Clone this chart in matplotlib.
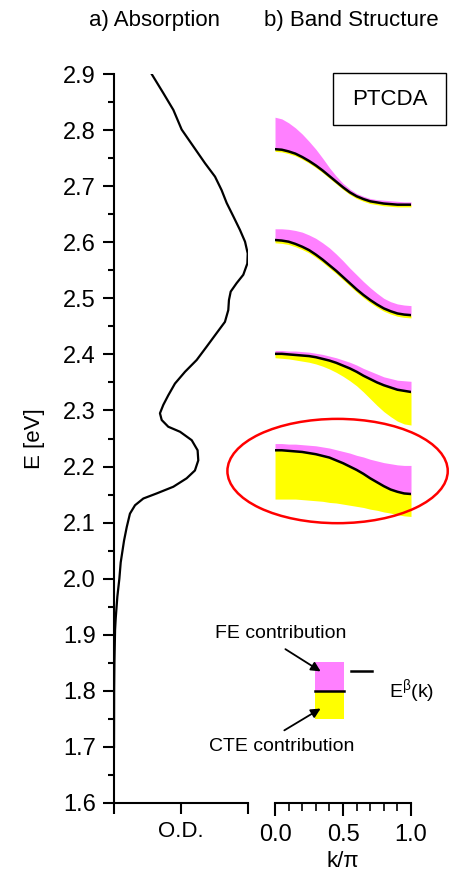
import numpy as np
import matplotlib
matplotlib.use("Agg")
import matplotlib.pyplot as plt
from matplotlib.patches import Ellipse, Rectangle

plt.rcParams['font.family'] = ['Liberation Sans', 'DejaVu Sans']

# absorption spectrum (O.D. normalised to 0..1) vs photon energy
abs_E = [2.900, 2.866, 2.836, 2.801, 2.771, 2.741, 2.717, 2.693, 2.670, 2.646,
         2.622, 2.601, 2.580, 2.562, 2.542, 2.527, 2.512, 2.497, 2.479, 2.458,
         2.438, 2.414, 2.390, 2.369, 2.348, 2.327, 2.310, 2.295, 2.283, 2.271,
         2.262, 2.247, 2.229, 2.211, 2.193, 2.179, 2.164, 2.152, 2.143, 2.131,
         2.116, 2.092, 2.068, 2.029, 2.000, 1.968, 1.930, 1.909, 1.850, 1.800,
         1.700]
abs_od = [0.281, 0.368, 0.443, 0.505, 0.592, 0.679, 0.754, 0.803, 0.841, 0.891,
          0.940, 0.978, 0.998, 0.995, 0.965, 0.915, 0.871, 0.858, 0.853, 0.828,
          0.766, 0.692, 0.617, 0.530, 0.455, 0.405, 0.368, 0.343, 0.356, 0.405,
          0.493, 0.580, 0.624, 0.629, 0.604, 0.542, 0.443, 0.318, 0.219, 0.157,
          0.119, 0.095, 0.075, 0.050, 0.040, 0.025, 0.013, 0.008, 0.003, 0.001,
          0.000]

# band structure E(k): centre line, FE upper edge, CTE lower edge
k = [0.00, 0.05, 0.10, 0.15, 0.20, 0.25, 0.30, 0.35, 0.40, 0.45, 0.50,
     0.55, 0.60, 0.65, 0.70, 0.75, 0.80, 0.85, 0.90, 0.95, 1.00]
band_mid = [
    [2.766, 2.765, 2.762, 2.758, 2.752, 2.745, 2.737, 2.728, 2.718, 2.708, 2.698,
     2.689, 2.682, 2.677, 2.673, 2.671, 2.669, 2.668, 2.667, 2.667, 2.667],
    [2.604, 2.603, 2.601, 2.597, 2.592, 2.586, 2.578, 2.569, 2.559, 2.549, 2.538,
     2.527, 2.516, 2.506, 2.497, 2.489, 2.482, 2.477, 2.473, 2.471, 2.470],
    [2.401, 2.401, 2.400, 2.399, 2.398, 2.397, 2.395, 2.392, 2.389, 2.385, 2.380,
     2.375, 2.369, 2.362, 2.356, 2.350, 2.345, 2.341, 2.337, 2.335, 2.333],
    [2.229, 2.229, 2.228, 2.227, 2.226, 2.224, 2.222, 2.219, 2.216, 2.211, 2.206,
     2.200, 2.194, 2.187, 2.179, 2.172, 2.165, 2.159, 2.155, 2.152, 2.151],
]
band_fe = [
    [2.823, 2.820, 2.813, 2.804, 2.793, 2.780, 2.766, 2.750, 2.733, 2.718, 2.705,
     2.695, 2.687, 2.682, 2.678, 2.676, 2.675, 2.674, 2.673, 2.672, 2.672],
    [2.624, 2.624, 2.623, 2.621, 2.618, 2.613, 2.607, 2.599, 2.590, 2.579, 2.567,
     2.554, 2.542, 2.530, 2.519, 2.509, 2.500, 2.494, 2.490, 2.488, 2.487],
    [2.407, 2.407, 2.406, 2.406, 2.405, 2.404, 2.402, 2.400, 2.397, 2.394, 2.390,
     2.386, 2.381, 2.375, 2.370, 2.365, 2.360, 2.357, 2.354, 2.353, 2.352],
    [2.241, 2.241, 2.240, 2.240, 2.239, 2.238, 2.237, 2.235, 2.233, 2.230, 2.227,
     2.224, 2.220, 2.217, 2.213, 2.210, 2.207, 2.205, 2.203, 2.202, 2.202],
]
band_cte = [
    [2.762, 2.761, 2.758, 2.754, 2.748, 2.741, 2.733, 2.724, 2.714, 2.704, 2.694,
     2.685, 2.678, 2.673, 2.669, 2.667, 2.665, 2.664, 2.663, 2.663, 2.663],
    [2.599, 2.598, 2.596, 2.592, 2.587, 2.581, 2.573, 2.564, 2.554, 2.544, 2.533,
     2.522, 2.511, 2.501, 2.492, 2.484, 2.477, 2.472, 2.468, 2.466, 2.465],
    [2.394, 2.393, 2.392, 2.390, 2.388, 2.386, 2.383, 2.379, 2.374, 2.368, 2.361,
     2.353, 2.344, 2.333, 2.321, 2.309, 2.298, 2.289, 2.281, 2.276, 2.274],
    [2.142, 2.142, 2.142, 2.142, 2.141, 2.140, 2.139, 2.138, 2.136, 2.135, 2.133,
     2.131, 2.129, 2.127, 2.124, 2.122, 2.119, 2.117, 2.114, 2.112, 2.111],
]

PINK = '#ff80ff'
YELLOW = '#ffff00'

fig = plt.figure(figsize=(4.49, 8.75), dpi=100)
ax1 = fig.add_axes([0.2539, 0.0823, 0.2984, 0.8331])
ax2 = fig.add_axes([0.6125, 0.0823, 0.3029, 0.8331])

fig.text(0.343, 0.977, 'a) Absorption', fontsize=16, ha='center', va='center')
fig.text(0.782, 0.977, 'b) Band Structure', fontsize=16, ha='center',
         va='center')

# --- a) absorption ---
ax1.plot(abs_od, abs_E, color='black', lw=1.6)
ax1.set_xlim(0, 1)
ax1.set_ylim(1.6, 2.9)
ax1.set_yticks(np.arange(1.6, 2.91, 0.1))
ax1.set_yticks(np.arange(1.65, 2.9, 0.1), minor=True)
ax1.set_yticklabels([f'{v:.1f}' for v in np.arange(1.6, 2.91, 0.1)])
ax1.set_xticks([0, 0.5, 1])
ax1.set_xticklabels([])
ax1.set_xlabel('O.D.', fontsize=16, labelpad=0)
ax1.set_ylabel('E [eV]', fontsize=16, labelpad=13)
for s in ['top', 'right']:
    ax1.spines[s].set_visible(False)
for s in ['left', 'bottom']:
    ax1.spines[s].set_linewidth(1.5)
ax1.tick_params(axis='both', which='major', direction='out', length=8,
                width=1.5, labelsize=17, pad=5)
ax1.tick_params(axis='y', which='minor', direction='out', length=4, width=1.5)

# --- b) band structure ---
for lo, mid, hi in zip(band_cte, band_mid, band_fe):
    ax2.fill_between(k, mid, hi, color=PINK, lw=0)
    ax2.fill_between(k, lo, mid, color=YELLOW, lw=0)
    ax2.plot(k, mid, color='black', lw=1.8)

ax2.set_xlim(0, 1)
ax2.set_ylim(1.6, 2.9)
ax2.set_xticks([0, 0.5, 1])
ax2.set_xticklabels(['0.0', '0.5', '1.0'])
ax2.set_xticks(np.arange(0.1, 1.0, 0.1), minor=True)
ax2.set_yticks([])
ax2.set_xlabel('k/π', fontsize=16, labelpad=4)
for s in ['top', 'right', 'left']:
    ax2.spines[s].set_visible(False)
ax2.spines['bottom'].set_linewidth(1.5)
ax2.tick_params(axis='x', which='major', direction='out', length=9,
                width=1.5, labelsize=17, pad=6)
ax2.tick_params(axis='x', which='minor', direction='out', length=6, width=1.2)

# highlight the lowest band
ax2.add_patch(Ellipse((0.46, 2.192), 1.62, 0.186, fill=False,
                      edgecolor='red', lw=1.8, clip_on=False))

# sample label
ax2.add_patch(Rectangle((0.426, 2.809), 0.83, 0.093, fill=False,
                        edgecolor='black', lw=1.0, clip_on=False))
ax2.text(0.842, 2.855, 'PTCDA', fontsize=16, ha='center', va='center')

# key for the band colours
ax2.add_patch(Rectangle((0.294, 1.800), 0.213, 0.052, color=PINK, lw=0))
ax2.add_patch(Rectangle((0.294, 1.750), 0.213, 0.050, color=YELLOW, lw=0))
ax2.plot([0.294, 0.507], [1.800, 1.800], color='black', lw=1.8)
ax2.plot([0.56, 0.71], [1.836, 1.836], color='black', lw=1.8, clip_on=False)
ax2.text(0.84, 1.798, r'E$^{\mathregular{β}}$(k)', fontsize=14, ha='left',
         va='center', clip_on=False)
ax2.text(0.044, 1.902, 'FE contribution', fontsize=14, ha='center',
         va='center', clip_on=False)
ax2.text(0.05, 1.700, 'CTE contribution', fontsize=14, ha='center',
         va='center', clip_on=False)
ax2.annotate('', xy=(0.353, 1.832), xytext=(0.059, 1.877),
             arrowprops=dict(arrowstyle='-|>', color='black', lw=1.3,
                             mutation_scale=14))
ax2.annotate('', xy=(0.353, 1.771), xytext=(0.051, 1.727),
             arrowprops=dict(arrowstyle='-|>', color='black', lw=1.3,
                             mutation_scale=14))

fig.savefig('out.png', dpi=100)
